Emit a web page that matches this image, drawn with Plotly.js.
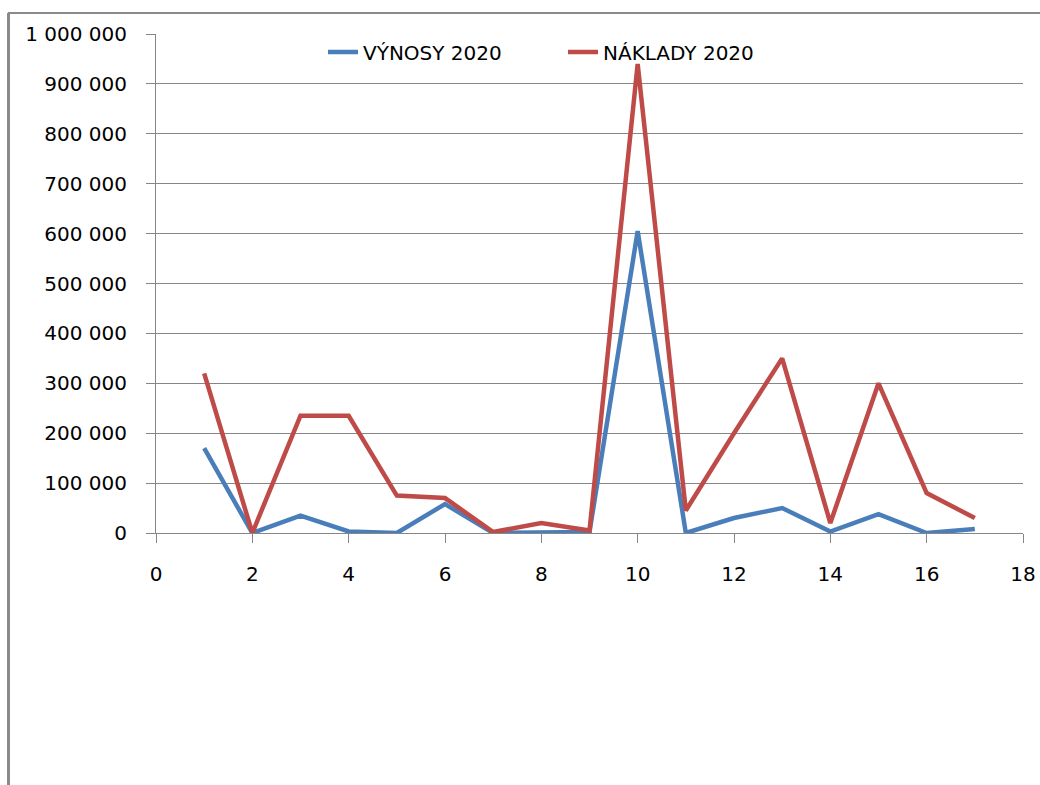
<!DOCTYPE html>
<html>
<head>
<meta charset="utf-8">
<script src="https://cdn.plot.ly/plotly-3.0.1.min.js"></script>
<style>
  html, body { margin: 0; padding: 0; background: #ffffff; }
  #chart { width: 1040px; height: 785px; }
</style>
</head>
<body>
<div id="chart"></div>
<script>
const xValues = [1, 2, 3, 4, 5, 6, 7, 8, 9, 10, 11, 12, 13, 14, 15, 16, 17];
const vynosy2020 = [170000, 0, 35000, 3000, 0, 58000, 0, 1000, 2000, 605000, 0, 30000, 50000, 3000, 38000, 0, 8000];
const naklady2020 = [320000, 0, 235000, 235000, 75000, 70000, 2000, 20000, 5000, 940000, 45000, 200000, 350000, 20000, 300000, 80000, 30000];
const seriesNames = ["VÝNOSY 2020", "NÁKLADY 2020"];
const seriesColors = ["#4A7EBB", "#BE4B48"];

const fontFamily = "DejaVu Sans, sans-serif";
const gridColor = "#868686";

const traces = [
  { x: xValues, y: vynosy2020, name: seriesNames[0], type: "scatter", mode: "lines",
    line: { color: seriesColors[0], width: 4.5 } },
  { x: xValues, y: naklady2020, name: seriesNames[1], type: "scatter", mode: "lines",
    line: { color: seriesColors[1], width: 4.5 } }
];

const L = 156, R = 17, T = 34, B = 252;
const W = 1040, H = 785;
const pw = W - L - R, ph = H - T - B;
function px(x) { return (x - L) / pw; }
function py(y) { return (H - B - y) / ph; }

const layout = {
  width: W, height: H,
  margin: { l: L, r: R, t: T, b: B, pad: 0 },
  paper_bgcolor: "#ffffff",
  plot_bgcolor: "#ffffff",
  separators: ", ",
  font: { family: fontFamily, size: 20, color: "#000000" },
  showlegend: true,
  legend: {
    orientation: "h",
    x: px(323), xanchor: "left",
    y: py(52), yanchor: "middle",
    bgcolor: "rgba(0,0,0,0)",
    font: { family: fontFamily, size: 20, color: "#000000" },
    entrywidth: 195, entrywidthmode: "pixels"
  },
  xaxis: {
    range: [0, 18], dtick: 2, tick0: 0,
    showgrid: false, zeroline: false,
    showline: true, linecolor: gridColor, linewidth: 1,
    ticks: "outside", ticklen: 9, tickcolor: gridColor, tickwidth: 1,
    ticklabelstandoff: 14,
    tickfont: { family: fontFamily, size: 20, color: "#000000" },
    fixedrange: true
  },
  yaxis: {
    range: [0, 1000000], dtick: 100000, tick0: 0,
    tickformat: ",d",
    showgrid: true, gridcolor: gridColor, gridwidth: 1,
    zeroline: false,
    showline: true, linecolor: gridColor, linewidth: 1,
    ticks: "outside", ticklen: 9, tickcolor: gridColor, tickwidth: 1,
    ticklabelstandoff: 15,
    tickfont: { family: fontFamily, size: 20, color: "#000000" },
    fixedrange: true
  },
  shapes: [
    { type: "line", xref: "paper", yref: "paper", x0: px(8.5), x1: px(8.5), y0: py(13), y1: py(786),
      line: { color: "#8a8a8a", width: 3 } },
    { type: "line", xref: "paper", yref: "paper", x0: px(8), x1: px(1041), y0: py(13), y1: py(13),
      line: { color: "#8a8a8a", width: 2 } }
  ]
};

Plotly.newPlot("chart", traces, layout, { displayModeBar: false, staticPlot: true });
</script>
</body>
</html>
